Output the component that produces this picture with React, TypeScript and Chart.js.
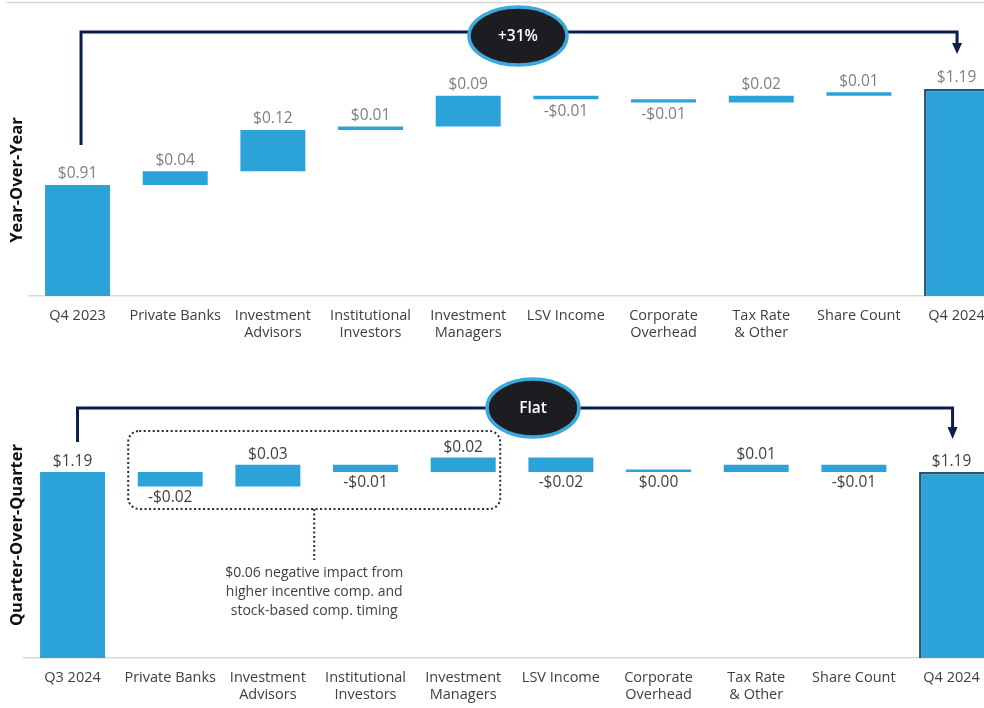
import React, { useEffect, useRef } from "react";
import { Chart, registerables } from "chart.js";

Chart.register(...registerables);
Chart.defaults.font.family = "'Open Sans', 'Noto Sans', sans-serif";

// ---------------- data ----------------
const yoyCategories: string[][] = [
  ["Q4 2023"],
  ["Private Banks"],
  ["Investment", "Advisors"],
  ["Institutional", "Investors"],
  ["Investment", "Managers"],
  ["LSV Income"],
  ["Corporate", "Overhead"],
  ["Tax Rate", "& Other"],
  ["Share Count"],
  ["Q4 2024"],
];
const yoyStart = 0.91;
const yoyDeltas = [0.04, 0.12, 0.01, 0.09, -0.01, -0.01, 0.02, 0.01];
const yoyEnd = 1.19;
const yoyBadge = "+31%";
const yoyTitle = "Year-Over-Year";

const qoqCategories: string[][] = [
  ["Q3 2024"],
  ["Private Banks"],
  ["Investment", "Advisors"],
  ["Institutional", "Investors"],
  ["Investment", "Managers"],
  ["LSV Income"],
  ["Corporate", "Overhead"],
  ["Tax Rate", "& Other"],
  ["Share Count"],
  ["Q4 2024"],
];
const qoqStart = 1.19;
const qoqDeltas = [-0.02, 0.03, -0.01, 0.02, -0.02, 0.0, 0.01, -0.01];
const qoqEnd = 1.19;
const qoqBadge = "Flat";
const qoqTitle = "Quarter-Over-Quarter";
const qoqNoteLines = [
  "$0.06 negative impact from",
  "higher incentive comp. and",
  "stock-based comp. timing",
];
const qoqNoteFirstIndex = 1;
const qoqNoteLastIndex = 4;

// ---------------- styles ----------------
const BAR_BLUE = "#2CA3D8";
const FINAL_BORDER = "#1D5878";
const NAVY = "#0B1E4A";
const BADGE_FILL = "#1C1C21";
const BADGE_RING = "#3AA9DD";
const CANVAS_W = 1010;

function buildWaterfall(start: number, deltas: number[], end: number) {
  const ranges: [number, number][] = [[0, start]];
  const values: number[] = [start];
  let level = start;
  for (const d of deltas) {
    const next = Math.round((level + d) * 10000) / 10000;
    ranges.push([level, next]);
    values.push(d);
    level = next;
  }
  ranges.push([0, end]);
  values.push(end);
  return { ranges, values };
}

function fmt(v: number) {
  const s = "$" + Math.abs(v).toFixed(2);
  return v < 0 ? "-" + s : s;
}

type Panel = {
  categories: string[][];
  start: number;
  deltas: number[];
  end: number;
  badge: string;
  title: string;
  height: number;
  axisMin: number;
  axisMax: number;
  padTop: number;
  padRight: number;
  xHeight: number;
  yWidth: number;
  valueColor: string;
  aboveOff: number;
  belowOff: number;
  topRule: boolean;
  bracket: { y: number; leftStartY: number; leftDx: number; rightDx: number; arrowTop: number; arrowTip: number; half: number };
  badgeBox: { cx: number; cy: number; rx: number; ry: number };
  note?: { lines: string[]; first: number; last: number; padL: number; padR: number; top: number; bottom: number; stemEnd: number; lineYs: number[] };
};

function makePlugin(p: Panel, values: number[]) {
  return {
    id: "waterfallOverlay",
    afterDraw(chart: any) {
      const ctx: CanvasRenderingContext2D = chart.ctx;
      const xs = chart.scales.x;
      const meta = chart.getDatasetMeta(0);
      const n = values.length;
      ctx.save();

      if (p.topRule) {
        ctx.strokeStyle = "#D6D6D6";
        ctx.lineWidth = 1.5;
        ctx.beginPath();
        ctx.moveTo(7, 2.5);
        ctx.lineTo(CANVAS_W, 2.5);
        ctx.stroke();
      }

      // bracket
      const b = p.bracket;
      const x1 = xs.getPixelForValue(0) + b.leftDx;
      const x2 = xs.getPixelForValue(n - 1) + b.rightDx;
      ctx.strokeStyle = NAVY;
      ctx.lineWidth = 3;
      ctx.lineJoin = "miter";
      ctx.beginPath();
      ctx.moveTo(x1, b.leftStartY);
      ctx.lineTo(x1, b.y);
      ctx.lineTo(x2, b.y);
      ctx.lineTo(x2, b.arrowTop + 1);
      ctx.stroke();
      ctx.fillStyle = NAVY;
      ctx.beginPath();
      ctx.moveTo(x2 - b.half, b.arrowTop);
      ctx.lineTo(x2 + b.half, b.arrowTop);
      ctx.lineTo(x2, b.arrowTip);
      ctx.closePath();
      ctx.fill();

      // badge
      const bb = p.badgeBox;
      ctx.beginPath();
      ctx.ellipse(bb.cx, bb.cy, bb.rx, bb.ry, 0, 0, Math.PI * 2);
      ctx.fillStyle = BADGE_FILL;
      ctx.fill();
      ctx.lineWidth = 3.5;
      ctx.strokeStyle = BADGE_RING;
      ctx.stroke();
      ctx.fillStyle = "#FFFFFF";
      ctx.font = "600 15.5px 'Open Sans', sans-serif";
      ctx.textAlign = "center";
      ctx.textBaseline = "middle";
      ctx.fillText(p.badge, bb.cx, bb.cy + 1);

      // value labels
      ctx.font = "15.5px 'Open Sans', sans-serif";
      ctx.fillStyle = p.valueColor;
      for (let i = 0; i < n; i++) {
        const el = meta.data[i];
        if (!el) continue;
        const { x, y, base } = el.getProps(["x", "y", "base"], true);
        const topPx = Math.min(y, base);
        const botPx = Math.max(y, base);
        const isTotal = i === 0 || i === n - 1;
        const v = values[i];
        if (isTotal || v > 0) {
          ctx.fillText(fmt(v), x, topPx - p.aboveOff);
        } else {
          ctx.fillText(fmt(v), x, botPx + p.belowOff);
        }
      }

      // note box
      if (p.note) {
        const nt = p.note;
        const left = xs.getPixelForValue(nt.first) - nt.padL;
        const right = xs.getPixelForValue(nt.last) + nt.padR;
        const mid = (left + right) / 2;
        ctx.strokeStyle = "#1F2A44";
        ctx.lineWidth = 2;
        ctx.setLineDash([2, 2.5]);
        ctx.beginPath();
        (ctx as any).roundRect(left, nt.top, right - left, nt.bottom - nt.top, 11);
        ctx.stroke();
        ctx.beginPath();
        ctx.moveTo(mid, nt.bottom);
        ctx.lineTo(mid, nt.stemEnd);
        ctx.stroke();
        ctx.setLineDash([]);
        ctx.fillStyle = "#404040";
        ctx.font = "14px 'Open Sans', sans-serif";
        nt.lines.forEach((ln, k) => ctx.fillText(ln, mid, nt.lineYs[k]));
      }
      ctx.restore();
    },
  };
}

function makeConfig(p: Panel): any {
  const { ranges, values } = buildWaterfall(p.start, p.deltas, p.end);
  const last = ranges.length - 1;
  return {
    type: "bar",
    data: {
      labels: p.categories,
      datasets: [
        {
          data: ranges,
          backgroundColor: BAR_BLUE,
          borderColor: FINAL_BORDER,
          borderWidth: (c: any) =>
            c.dataIndex === last ? { top: 2.5, left: 2.5, right: 0, bottom: 0 } : 0,
          borderSkipped: false,
          barPercentage: 0.665,
          categoryPercentage: 1,
          minBarLength: 2.5,
          clip: { left: false, right: false, top: false, bottom: 0 },
        },
      ],
    },
    options: {
      responsive: false,
      animation: false,
      devicePixelRatio: 1,
      layout: { padding: { left: 0, right: p.padRight, top: p.padTop, bottom: 0 } },
      plugins: {
        legend: { display: false },
        tooltip: { enabled: false },
        title: { display: false },
      },
      scales: {
        x: {
          grid: { display: false, drawTicks: false },
          border: { display: true, color: "#D9D9D9", width: 1.5 },
          ticks: {
            font: { size: 14.5 },
            color: "#404040",
            padding: 11,
            maxRotation: 0,
            minRotation: 0,
            autoSkip: false,
          },
          afterFit: (s: any) => {
            s.height = p.xHeight;
          },
        },
        y: {
          min: p.axisMin,
          max: p.axisMax,
          grid: { display: false, drawTicks: false },
          border: { display: false },
          ticks: { display: false },
          title: {
            display: true,
            text: p.title,
            font: { size: 16.5, weight: "bold" },
            color: "#111111",
            padding: { top: 7, bottom: 0 },
          },
          afterFit: (s: any) => {
            s.width = p.yWidth;
          },
        },
      },
    },
    plugins: [makePlugin(p, values)],
  };
}

const yoyPanel: Panel = {
  categories: yoyCategories,
  start: yoyStart,
  deltas: yoyDeltas,
  end: yoyEnd,
  badge: yoyBadge,
  title: yoyTitle,
  height: 350,
  axisMin: 0.586,
  axisMax: 1.2626,
  padTop: 64,
  padRight: 4.6,
  xHeight: 54,
  yWidth: 28.7,
  valueColor: "#7F7F7F",
  aboveOff: 11,
  belowOff: 12,
  topRule: true,
  bracket: { y: 32, leftStartY: 145, leftDx: 3.5, rightDx: 0.5, arrowTop: 43, arrowTip: 54, half: 5 },
  badgeBox: { cx: 518, cy: 36, rx: 49, ry: 29 },
};

const qoqPanel: Panel = {
  categories: qoqCategories,
  start: qoqStart,
  deltas: qoqDeltas,
  end: qoqEnd,
  badge: qoqBadge,
  title: qoqTitle,
  height: 358,
  axisMin: 0.9317,
  axisMax: 1.2733,
  padTop: 62,
  padRight: 9.6,
  xHeight: 50,
  yWidth: 23.7,
  valueColor: "#404040",
  aboveOff: 10,
  belowOff: 11,
  topRule: false,
  bracket: { y: 58, leftStartY: 92, leftDx: 5, rightDx: 1, arrowTop: 77, arrowTip: 89, half: 5 },
  badgeBox: { cx: 533, cy: 58, rx: 46, ry: 29 },
  note: {
    lines: qoqNoteLines,
    first: qoqNoteFirstIndex,
    last: qoqNoteLastIndex,
    padL: 42,
    padR: 37,
    top: 81,
    bottom: 159,
    stemEnd: 210,
    lineYs: [223, 242, 261],
  },
};

function WaterfallPanel({ panel, top }: { panel: Panel; top: number }) {
  const ref = useRef<HTMLCanvasElement>(null);
  useEffect(() => {
    if (!ref.current) return;
    const chart = new Chart(ref.current, makeConfig(panel));
    return () => chart.destroy();
  }, [panel]);
  return (
    <canvas
      ref={ref}
      width={CANVAS_W}
      height={panel.height}
      style={{ position: "absolute", left: 0, top, width: CANVAS_W, height: panel.height }}
    />
  );
}

export default function App() {
  return (
    <div
      style={{
        position: "fixed",
        left: 0,
        top: 0,
        width: 984,
        height: 708,
        overflow: "hidden",
        background: "#FFFFFF",
      }}
    >
      <WaterfallPanel panel={yoyPanel} top={0} />
      <WaterfallPanel panel={qoqPanel} top={350} />
    </div>
  );
}
